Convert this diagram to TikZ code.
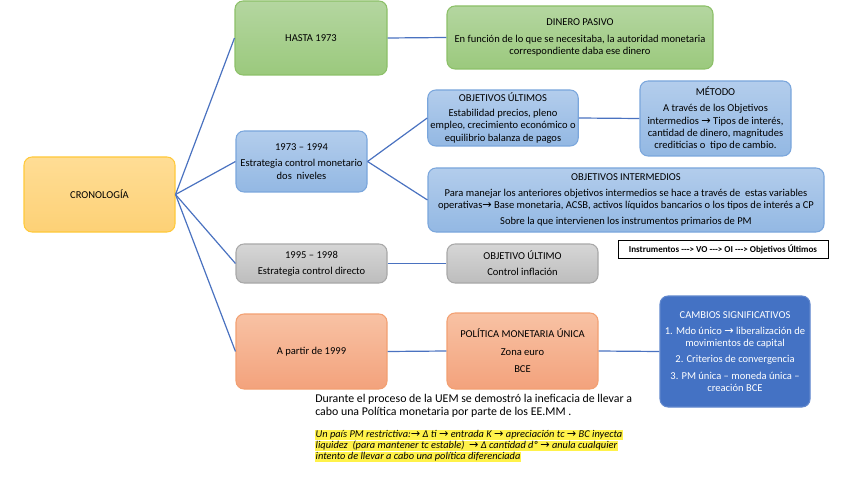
\documentclass[tikz,border=0pt]{standalone}
\usepackage{fontspec}
\setmainfont{Carlito}
\newfontfamily\symf{DejaVu Sans}
\usetikzlibrary{shadows}
\definecolor{lnc}{HTML}{4A72C0}
\definecolor{gTop}{HTML}{B4D6A0}
\definecolor{gBot}{HTML}{9BC97D}
\definecolor{gBrd}{HTML}{8CC068}
\definecolor{bTop}{HTML}{B3CDEC}
\definecolor{bBot}{HTML}{93B8E3}
\definecolor{bBrd}{HTML}{7AA6DC}
\definecolor{yTop}{HTML}{FFDD95}
\definecolor{yBot}{HTML}{FDD176}
\definecolor{yBrd}{HTML}{FFC93A}
\definecolor{grTop}{HTML}{D6D6D6}
\definecolor{grBot}{HTML}{BDBDBD}
\definecolor{grBrd}{HTML}{A8A8A8}
\definecolor{oTop}{HTML}{F8C2A4}
\definecolor{oBot}{HTML}{F3A27C}
\definecolor{oBrd}{HTML}{F2A072}
\definecolor{dBlue}{HTML}{4472C4}
\definecolor{hl}{HTML}{FFF24A}
\tikzset{
  box/.style={rounded corners=6pt, line width=0.8pt, align=center, inner sep=2pt,
    font=\fontsize{7.9}{9.1}\selectfont, anchor=center},
  gbox/.style={box, draw=gBrd, top color=gTop, bottom color=gBot},
  bbox/.style={box, draw=bBrd, top color=bTop, bottom color=bBot},
  ybox/.style={box, draw=yBrd, top color=yTop, bottom color=yBot},
  grbox/.style={box, draw=grBrd, top color=grTop, bottom color=grBot},
  obox/.style={box, draw=oBrd, top color=oTop, bottom color=oBot},
  dbox/.style={box, draw=dBlue!85!white, fill=dBlue, text=white},
  conn/.style={draw=lnc, line width=0.9pt},
}
\newcommand{\arr}{{\symf\upshape\fontsize{8.4}{7}\selectfont →}}
\newcommand{\dsh}{-{}-{}->}
\newcommand{\hlb}[1]{{\setlength{\fboxsep}{0.3pt}\colorbox{hl}{\rule[-1.5pt]{0pt}{7.3pt}\smash{#1}}}}
\newcommand{\hlsetup}{\fontsize{7.8}{8.2}\selectfont\itshape\lineskiplimit=-5pt\relax\lineskip=0pt\relax}
\begin{document}
\begin{tikzpicture}[x=0.75pt,y=-0.75pt]
\useasboundingbox (0,0) rectangle (848,477);
% left / middle column
\node[ybox, minimum width=151*0.75pt, minimum height=75*0.75pt] (cron) at (99.5,194.5) {CRONOLOGÍA};
\node[gbox, minimum width=152*0.75pt, minimum height=74*0.75pt] (hasta) at (311,38) {HASTA 1973};
\node[bbox, minimum width=131*0.75pt, minimum height=61*0.75pt] (p7394) at (301.5,161.5) {1973 – 1994\\[3pt]Estrategia control monetario\\dos~ niveles};
\node[grbox, minimum width=151*0.75pt, minimum height=39*0.75pt] (p9598) at (311.5,263.5) {1995 – 1998\\[3pt]Estrategia control directo};
\node[obox, minimum width=151*0.75pt, minimum height=75*0.75pt] (p99) at (311.5,351.5) {A partir de 1999};
% right column
\node[gbox, minimum width=266*0.75pt, minimum height=63*0.75pt] (dinero) at (580,37.5) {DINERO PASIVO\\[3pt]En función de lo que se necesitaba, la autoridad monetaria\\correspondiente daba ese dinero};
\node[bbox, minimum width=150*0.75pt, minimum height=56*0.75pt] (objult) at (503,118) {OBJETIVOS ÚLTIMOS\\[2pt]Estabilidad precios, pleno\\empleo, crecimiento económico o\\equilibrio balanza de pagos};
\node[bbox, minimum width=151*0.75pt, minimum height=75*0.75pt] (metodo) at (715.5,118.5) {MÉTODO\\[3pt]A través de los Objetivos\\intermedios \arr{} Tipos de interés,\\cantidad de dinero, magnitudes\\crediticias o~ tipo de cambio.};
\node[bbox, minimum width=396*0.75pt, minimum height=64*0.75pt] (objint) at (626,200) {OBJETIVOS INTERMEDIOS\\[3pt]Para manejar los anteriores objetivos intermedios se hace a través de~ estas variables\\operativas\arr{} Base monetaria, ACSB, activos líquidos bancarios o los tipos de interés a CP\\[3pt]Sobre la que intervienen los instrumentos primarios de PM};
\node[grbox, minimum width=151*0.75pt, minimum height=39*0.75pt] (objult2) at (522.5,263.5) {OBJETIVO ÚLTIMO\\[3pt]Control inflación};
\node[draw=black, line width=0.6pt, fill=white, minimum width=210*0.75pt, minimum height=18*0.75pt, inner sep=1pt,
  font=\fontsize{6.8}{7}\selectfont\bfseries, drop shadow={shadow xshift=1pt, shadow yshift=-1pt, opacity=0.4}] (instr) at (723,249) {Instrumentos \dsh{} VO \dsh{} OI \dsh{} Objetivos Últimos};
\node[obox, minimum width=151*0.75pt, minimum height=76*0.75pt] (pmu) at (522.5,351) {POLÍTICA MONETARIA ÚNICA\\[4pt]Zona euro\\[4pt]BCE};
\node[dbox, minimum width=150*0.75pt, minimum height=111*0.75pt] (cambios) at (735,351.5) {CAMBIOS SIGNIFICATIVOS\\[3pt]1. Mdo único \arr{} liberalización de\\movimientos de capital\\[3pt]2. Criterios de convergencia\\[3pt]3. PM única – moneda única –\\creación BCE};
% connectors
\draw[conn] (cron.east) -- (hasta.west);
\draw[conn] (cron.east) -- (p7394.west);
\draw[conn] (cron.east) -- (p9598.west);
\draw[conn] (cron.east) -- (p99.west);
\draw[conn] (hasta.east) -- (dinero.west);
\draw[conn] (p7394.east) -- (objult.west);
\draw[conn] (p7394.east) -- (objint.west);
\draw[conn] (objult.east) -- (metodo.west);
\draw[conn] (p9598.east) -- (objult2.west);
\draw[conn] (p99.east) -- (pmu.west);
\draw[conn] (pmu.east) -- (cambios.west);
% free text
\node[anchor=north west, inner sep=0pt, align=left, font=\fontsize{8.9}{9.4}\selectfont] (durante) at (315,394)
  {Durante el proceso de la UEM se demostró la ineficacia de llevar a\\cabo una Política monetaria por parte de los EE.MM .};
\node[anchor=north west, inner sep=0pt, align=left, font=\hlsetup] (hltext) at (315,429.5)
  {\hlb{Un país PM restrictiva:\arr{} Δ ti \arr{} entrada K \arr{} apreciación tc \arr{} BC inyecta}\\
   \hlb{liquidez~ (para mantener tc estable)~ \arr{} Δ cantidad dº \arr{} anula cualquier}\\
   \hlb{intento de llevar a cabo una política diferenciada}};
\end{tikzpicture}
\end{document}
